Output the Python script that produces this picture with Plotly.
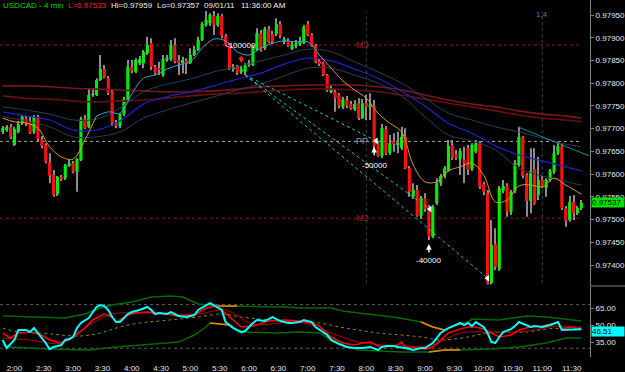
import plotly.graph_objects as go
import pandas as pd

# ---------------- data ----------------
DAY = "2011-09-01"
FIRST_BAR = "01:48"
BAR_MIN = 4

OPEN = [0.97693,0.97697,0.97704,0.97664,0.97693,0.97712,0.97723,0.97717,0.97693,0.97726,
        0.97677,0.97664,0.97627,0.97598,0.97556,0.97594,0.97591,0.97618,0.97624,0.97605,
        0.97631,0.97721,0.97704,0.97774,0.97774,0.97807,0.97831,0.97811,0.97781,0.97712,
        0.97706,0.97732,0.97761,0.97836,0.97825,0.97844,0.97844,0.97866,0.97888,0.97836,
        0.97833,0.97818,0.97851,0.97853,0.97884,0.97851,0.97844,0.97851,0.97844,0.97862,
        0.97873,0.97895,0.97928,0.97932,0.97948,0.97928,0.97948,0.97904,0.97884,0.97831,
        0.97836,0.97825,0.97825,0.97840,0.97840,0.97873,0.97910,0.97877,0.97919,0.97908,
        0.97908,0.97930,0.97891,0.97893,0.97875,0.97882,0.97886,0.97888,0.97930,0.97906,
        0.97882,0.97849,0.97844,0.97818,0.97781,0.97781,0.97774,0.97748,0.97763,0.97754,
        0.97743,0.97756,0.97723,0.97756,0.97748,0.97750,0.97668,0.97640,0.97699,0.97646,
        0.97673,0.97666,0.97657,0.97682,0.97613,0.97550,0.97565,0.97508,0.97547,0.97528,
        0.97462,0.97536,0.97580,0.97596,0.97607,0.97664,0.97644,0.97633,0.97631,0.97657,
        0.97611,0.97649,0.97668,0.97578,0.97558,0.97360,0.97446,0.97391,0.97563,0.97574,
        0.97517,0.97563,0.97620,0.97682,0.97598,0.97541,0.97611,0.97554,0.97589,0.97569,
        0.97587,0.97605,0.97646,0.97662,0.97525,0.97499,0.97539,0.97514,0.97525]
HIGH = [0.97706,0.97708,0.97710,0.97704,0.97717,0.97730,0.97728,0.97726,0.97730,0.97730,
        0.97684,0.97668,0.97646,0.97609,0.97596,0.97598,0.97622,0.97631,0.97629,0.97635,
        0.97726,0.97730,0.97789,0.97789,0.97811,0.97862,0.97840,0.97816,0.97785,0.97719,
        0.97734,0.97770,0.97851,0.97851,0.97855,0.97860,0.97873,0.97902,0.97899,0.97840,
        0.97847,0.97862,0.97862,0.97895,0.97899,0.97862,0.97858,0.97855,0.97877,0.97882,
        0.97902,0.97935,0.97959,0.97954,0.97959,0.97954,0.97952,0.97908,0.97888,0.97842,
        0.97840,0.97838,0.97844,0.97851,0.97884,0.97921,0.97917,0.97924,0.97926,0.97915,
        0.97943,0.97937,0.97902,0.97899,0.97891,0.97895,0.97902,0.97928,0.97937,0.97910,
        0.97886,0.97853,0.97847,0.97820,0.97796,0.97787,0.97778,0.97770,0.97772,0.97761,
        0.97763,0.97767,0.97765,0.97774,0.97778,0.97763,0.97673,0.97710,0.97706,0.97686,
        0.97690,0.97693,0.97704,0.97701,0.97618,0.97580,0.97576,0.97552,0.97558,0.97532,
        0.97532,0.97591,0.97600,0.97618,0.97675,0.97675,0.97653,0.97657,0.97660,0.97664,
        0.97668,0.97675,0.97673,0.97583,0.97565,0.97499,0.97481,0.97574,0.97587,0.97580,
        0.97565,0.97631,0.97704,0.97684,0.97602,0.97657,0.97657,0.97638,0.97596,0.97591,
        0.97611,0.97664,0.97671,0.97666,0.97530,0.97552,0.97554,0.97530,0.97543]
LOW = [0.97688,0.97693,0.97677,0.97662,0.97690,0.97708,0.97706,0.97688,0.97688,0.97673,
       0.97657,0.97624,0.97580,0.97550,0.97552,0.97585,0.97587,0.97616,0.97602,0.97561,
       0.97629,0.97699,0.97701,0.97770,0.97772,0.97805,0.97811,0.97774,0.97706,0.97701,
       0.97701,0.97728,0.97759,0.97822,0.97822,0.97840,0.97833,0.97862,0.97829,0.97818,
       0.97818,0.97814,0.97847,0.97849,0.97844,0.97818,0.97822,0.97820,0.97842,0.97860,
       0.97871,0.97893,0.97924,0.97926,0.97906,0.97924,0.97899,0.97882,0.97829,0.97825,
       0.97818,0.97820,0.97818,0.97836,0.97838,0.97871,0.97869,0.97873,0.97888,0.97886,
       0.97904,0.97899,0.97886,0.97880,0.97873,0.97877,0.97882,0.97886,0.97904,0.97880,
       0.97844,0.97838,0.97816,0.97781,0.97778,0.97737,0.97745,0.97743,0.97745,0.97741,
       0.97739,0.97719,0.97721,0.97719,0.97719,0.97657,0.97638,0.97635,0.97642,0.97642,
       0.97649,0.97646,0.97653,0.97611,0.97550,0.97545,0.97506,0.97501,0.97517,0.97455,
       0.97459,0.97532,0.97574,0.97591,0.97605,0.97631,0.97631,0.97598,0.97580,0.97598,
       0.97607,0.97646,0.97567,0.97554,0.97357,0.97357,0.97389,0.97387,0.97558,0.97506,
       0.97510,0.97558,0.97616,0.97591,0.97506,0.97514,0.97532,0.97543,0.97569,0.97550,
       0.97583,0.97600,0.97642,0.97521,0.97484,0.97495,0.97499,0.97510,0.97521]
CLOSE = [0.97701,0.97704,0.97682,0.97699,0.97710,0.97726,0.97710,0.97690,0.97726,0.97677,
         0.97662,0.97627,0.97596,0.97554,0.97594,0.97589,0.97620,0.97624,0.97605,0.97633,
         0.97721,0.97701,0.97774,0.97776,0.97807,0.97831,0.97814,0.97778,0.97712,0.97706,
         0.97732,0.97765,0.97836,0.97827,0.97851,0.97853,0.97869,0.97884,0.97836,0.97822,
         0.97829,0.97853,0.97855,0.97884,0.97847,0.97844,0.97851,0.97844,0.97862,0.97873,
         0.97895,0.97930,0.97939,0.97950,0.97928,0.97948,0.97904,0.97884,0.97833,0.97836,
         0.97822,0.97831,0.97840,0.97844,0.97880,0.97910,0.97873,0.97919,0.97891,0.97891,
         0.97930,0.97904,0.97897,0.97882,0.97884,0.97888,0.97893,0.97924,0.97906,0.97882,
         0.97847,0.97842,0.97818,0.97785,0.97785,0.97767,0.97750,0.97765,0.97750,0.97743,
         0.97754,0.97723,0.97756,0.97748,0.97750,0.97662,0.97640,0.97701,0.97646,0.97668,
         0.97666,0.97668,0.97682,0.97613,0.97561,0.97565,0.97508,0.97547,0.97523,0.97462,
         0.97528,0.97580,0.97596,0.97613,0.97662,0.97635,0.97635,0.97651,0.97624,0.97609,
         0.97664,0.97668,0.97572,0.97561,0.97360,0.97444,0.97396,0.97569,0.97574,0.97517,
         0.97561,0.97624,0.97682,0.97596,0.97541,0.97607,0.97534,0.97587,0.97572,0.97587,
         0.97607,0.97646,0.97662,0.97525,0.97497,0.97539,0.97514,0.97525,0.97537]

# fast moving average (bar index, value)
FAST_K = [0,3,6,9,12,15,18,21,24,27,30,33,36,39,42,45,48,51,54,57,60,63,66,69,72,75,78,81,
          84,87,90,93,96,99,102,105,108,111,114,117,120,123,126,129,132,135,138,141,144,148]
FAST = [0.97723,0.97715,0.97712,0.97701,0.97660,0.97638,0.97633,0.97675,0.97728,0.97737,
        0.97734,0.97776,0.97811,0.97818,0.97831,0.97840,0.97847,0.97877,0.97897,0.97893,
        0.97869,0.97862,0.97877,0.97888,0.97893,0.97891,0.97891,0.97862,0.97833,0.97805,
        0.97785,0.97767,0.97734,0.97712,0.97693,0.97620,0.97583,0.97583,0.97607,0.97616,
        0.97624,0.97598,0.97539,0.97543,0.97574,0.97576,0.97572,0.97591,0.97576,0.97556]
FAST_BLUE_FROM, FAST_BLUE_TO = 24, 81

# envelope bands and slow averages
BAND_K = [0,6,12,18,24,30,36,42,48,54,60,66,72,78,84,90,96,102,108,114,120,126,132,138,144,148]
BAND_UP = [0.97748,0.97741,0.97732,0.97719,0.97721,0.97745,0.97781,0.97798,0.97809,0.97825,
           0.97836,0.97849,0.97862,0.97875,0.97869,0.97847,0.97825,0.97800,0.97767,0.97734,
           0.97719,0.97704,0.97693,0.97679,0.97666,0.97660]
BAND_MID = [0.97737,0.97728,0.97719,0.97697,0.97697,0.97717,0.97754,0.97770,0.97781,0.97794,
            0.97809,0.97822,0.97842,0.97855,0.97849,0.97831,0.97811,0.97783,0.97750,0.97712,
            0.97690,0.97662,0.97642,0.97629,0.97616,0.97607]
BAND_LOW = [0.97726,0.97717,0.97704,0.97682,0.97682,0.97693,0.97723,0.97741,0.97756,0.97770,
            0.97785,0.97798,0.97816,0.97833,0.97833,0.97818,0.97800,0.97772,0.97726,0.97686,
            0.97673,0.97653,0.97613,0.97596,0.97583,0.97576]
SLOW_1 = [0.97794,0.97794,0.97792,0.97789,0.97787,0.97785,0.97783,0.97781,0.97781,0.97783,
          0.97787,0.97792,0.97794,0.97796,0.97796,0.97796,0.97792,0.97785,0.97774,0.97763,
          0.97754,0.97748,0.97739,0.97732,0.97728,0.97723]
SLOW_2 = [0.97772,0.97767,0.97765,0.97761,0.97759,0.97761,0.97763,0.97767,0.97772,0.97776,
          0.97778,0.97781,0.97785,0.97787,0.97787,0.97785,0.97781,0.97774,0.97765,0.97756,
          0.97748,0.97739,0.97730,0.97723,0.97719,0.97715]

# pivot levels
PIVOT_NAMES = ["M3", "PP", "M2"]
PIVOT_VALUES = [0.97884, 0.97672, 0.97503]
PIVOT_COLORS = ["#9a1414", "#a8a8a8", "#9a1414"]

# fan of trend lines
TREND_START_TIME, TREND_START_PRICE = "05:56", 0.97818
TREND_END_TIMES = ["08:10", "09:05", "10:04"]
TREND_END_PRICES = [0.97673, 0.97523, 0.97371]
RESIST_TIMES = ["10:35", "11:48"]
RESIST_PRICES = [0.97704, 0.97640]

VLINE_TIMES = ["08:00", "11:00"]
VLINE_LABELS = ["", "1.4"]

TRADE_TEXT = ["-100000", "-50000", "-40000"]
TRADE_TIME = ["05:52", "08:08", "09:04"]
TRADE_TEXT_PRICE = [0.97882, 0.97620, 0.97411]
TRADE_ARROW_PRICE = [0.97844, 0.97660, 0.97446]
TRADE_ARROW_UP = [False, True, True]
TRADE_ARROW_COLOR = ["#ff2020", "#ffffff", "#ffffff"]

LAST_PRICE = 0.97537
PRICE_TICKS = [0.97400,0.97450,0.97500,0.97550,0.97600,0.97650,0.97700,0.97750,0.97800,0.97850,0.97900,0.97950]
TIME_LABELS = ["2:00","2:30","3:00","3:30","4:00","4:30","5:00","5:30","6:00","6:30",
               "7:00","7:30","8:00","8:30","9:00","9:30","10:00","10:30","11:00","11:30"]

# oscillator
CY_K = [0,1,3,4,6,7,8,9,10,11,12,13,15,16,17,18,19,20,22,23,24,25,26,27,28,29,30,31,32,33,
        35,37,38,39,40,42,43,44,45,47,49,50,52,53,54,56,57,59,61,62,64,65,67,68,69,71,73,74,
        76,77,79,80,81,83,84,86,88,90,92,94,96,97,98,100,101,103,105,107,108,110,111,112,114,
        115,117,118,119,120,121,123,124,125,126,127,128,130,131,132,134,135,136,138,140,142,
        143,145,148]
CY_V = [37.2,30.2,37.2,45.9,45.9,44.1,47.6,43.3,38.9,34.6,29.3,31.1,32.8,37.2,38.0,39.8,47.6,
        52.0,56.3,60.7,65.9,67.6,66.7,63.3,57.2,52.8,52.8,56.3,59.8,61.5,63.3,65.9,63.3,59.8,
        60.7,59.8,61.5,59.8,58.0,57.2,58.9,63.3,67.6,69.3,67.6,63.3,52.8,47.6,44.1,45.0,52.0,
        54.6,53.7,55.4,57.2,53.7,52.0,52.0,52.8,54.6,52.8,48.5,45.9,41.5,37.2,33.7,31.1,30.2,
        30.2,31.1,28.5,31.1,32.0,32.0,31.1,30.2,28.5,30.2,30.2,34.6,38.9,43.3,47.6,49.3,52.0,
        50.2,52.0,49.3,52.8,48.5,43.3,35.4,34.6,39.8,44.1,46.7,49.3,52.8,50.2,48.5,49.3,48.5,
        50.2,52.8,45.9,45.9,46.51]
RD_K = [0,2,4,7,10,12,15,16,17,18,21,23,26,28,29,30,32,34,37,39,42,45,49,52,55,56,59,61,64,
        68,72,76,79,81,84,87,90,92,94,96,98,101,102,103,106,108,110,112,114,117,119,121,123,
        125,127,130,132,135,138,142,143,145,148]
RD_V = [43.3,38.9,43.3,44.1,41.5,37.2,34.6,37.2,37.2,39.8,47.6,54.6,59.8,57.2,52.8,54.6,58.9,
        60.7,61.5,60.7,59.8,58.0,58.9,65.0,66.7,63.3,54.6,48.5,49.3,53.7,54.6,53.7,52.0,49.3,
        39.8,34.6,32.8,34.6,35.4,32.0,31.1,32.8,35.4,31.1,30.2,29.3,31.1,37.2,43.3,46.7,48.5,
        48.5,46.7,43.3,39.8,41.5,45.9,48.5,49.3,52.0,46.7,48.5,46.7]
DR_K = [0,7,15,23,28,35,50,57,64,76,84,91,102,110,117,125,132,142,148]
DR_V = [38.9,37.2,34.6,52.0,59.8,60.7,59.8,63.3,51.1,52.8,43.3,35.4,32.0,32.8,43.3,44.1,44.1,49.3,47.6]
UB_K = [0,10,16,21,25,28,33,38,43,46,50,55,60,72,76,84,87,93,100,107,110,113,116,119,120,127,134,139,143,148]
UB_V = [58.0,57.2,56.3,59.8,65.0,67.6,70.2,74.6,75.4,74.6,68.5,66.7,66.7,65.9,65.0,65.0,62.4,
        59.8,57.2,52.8,48.5,45.9,50.2,52.8,55.4,54.6,58.0,57.2,55.4,53.7]
LB_K = [0,2,12,22,29,35,40,45,49,52,53,58,60,62,70,76,81,84,87,91,102,109,113,117,125,132,139,144,148]
LB_V = [32.8,31.1,29.3,28.5,31.1,32.8,34.6,35.4,41.5,48.5,52.0,50.2,45.9,44.1,43.3,44.1,43.3,
        37.2,32.8,28.5,26.7,26.7,28.5,28.5,29.3,31.1,34.6,38.9,38.9]
UB_ORANGE = [(55, 60), (107, 113)]
LB_ORANGE = [(53, 58), (109, 117)]
MID_K = [0,4,10,15,20,25,30,35,40,45,50,56,61,66,71,76,81,86,91,96,102,107,112,119,124,129,134,139,144,148]
MID_V = [47.6,44.1,43.3,41.5,40.7,43.3,48.5,52.0,53.7,55.4,57.2,59.8,57.2,55.4,53.7,52.8,52.0,
         48.5,45.9,43.3,41.5,39.8,37.2,39.8,43.3,44.1,44.1,46.7,47.6,48.5]
OSC_LEVELS = [68, 30]
OSC_TICKS = [35, 50, 65]
OSC_LAST = 46.51

# ---------------- figure ----------------
W, H = 625, 372
times = pd.date_range(f"{DAY} {FIRST_BAR}", periods=len(CLOSE), freq=f"{BAR_MIN}min")


def at(hm):
    return pd.Timestamp(f"{DAY} {hm}")


def tk(ks):
    return [times[k] for k in ks]


FONT = "Liberation Sans, Arial, sans-serif"
UP_COL, DN_COL = "#00ee00", "#ff1010"
BAR_MS = BAR_MIN * 60000
fig = go.Figure()


def line(xs, ys, color, width=1, dash=None, xa="x", ya="y", shape="linear"):
    fig.add_trace(go.Scatter(x=xs, y=ys, mode="lines", xaxis=xa, yaxis=ya, hoverinfo="skip",
                             line=dict(color=color, width=width, dash=dash, shape=shape)))


# slow averages and envelope
line(tk(BAND_K), SLOW_1, "#741818", 1.6, shape="spline")
line(tk(BAND_K), SLOW_2, "#6a0e0e", 1.6, shape="spline")
line(tk(BAND_K), BAND_UP, "#2a3d5a", 1, shape="spline")
line(tk(BAND_K), BAND_LOW, "#2a3d5a", 1, shape="spline")
line(tk(BAND_K), BAND_MID, "#2020c8", 1.2, shape="spline")
line([at(t) for t in RESIST_TIMES], RESIST_PRICES, "#178a8a", 1)

# wicks (thin bars, drawn first) and bodies (wide bars)
fig.add_trace(go.Bar(x=times, y=[h - l for h, l in zip(HIGH, LOW)], base=LOW, xaxis="x", yaxis="y",
                     width=BAR_MS * 0.26, hoverinfo="skip",
                     marker=dict(color="#8c8c8c", line=dict(width=0))))
body_base = [min(o, c) for o, c in zip(OPEN, CLOSE)]
body_len = [max(abs(c - o), 0.00002) for o, c in zip(OPEN, CLOSE)]
body_col = [UP_COL if c >= o else DN_COL for o, c in zip(OPEN, CLOSE)]
fig.add_trace(go.Bar(x=times, y=body_len, base=body_base, xaxis="x", yaxis="y",
                     width=BAR_MS * 0.8, hoverinfo="skip",
                     marker=dict(color=body_col, line=dict(width=0))))

# fast MA (orange / light blue / orange)
segs = [(0, FAST_BLUE_FROM, "#d89a2a"), (FAST_BLUE_FROM, FAST_BLUE_TO, "#3c9ee0"),
        (FAST_BLUE_TO, 10 ** 6, "#d89a2a")]
for a, b, c in segs:
    idx = [i for i, k in enumerate(FAST_K) if a <= k <= b]
    line([times[FAST_K[i]] for i in idx], [FAST[i] for i in idx], c, 1, shape="spline")

# trend fan
for te, pe in zip(TREND_END_TIMES, TREND_END_PRICES):
    line([at(TREND_START_TIME), at(te)], [TREND_START_PRICE, pe], "#10c4c4", 1, dash="dot")
fig.add_trace(go.Scatter(x=[at(t) for t in TREND_END_TIMES], y=TREND_END_PRICES, mode="markers",
                         hoverinfo="skip", marker=dict(symbol="triangle-left", size=6, color="white")))

# oscillator
line(tk(UB_K), UB_V, "#006a00", 1.5, xa="x2", ya="y2")
line(tk(LB_K), LB_V, "#006a00", 1.5, xa="x2", ya="y2")
for ks, vs, segl in [(UB_K, UB_V, UB_ORANGE), (LB_K, LB_V, LB_ORANGE)]:
    for a, b in segl:
        idx = [i for i, k in enumerate(ks) if a <= k <= b]
        line([times[ks[i]] for i in idx], [vs[i] for i in idx], "#ff8000", 1.5, xa="x2", ya="y2")
line(tk(MID_K), MID_V, "#8a8a00", 1, dash="dot", xa="x2", ya="y2", shape="spline")
line(tk(DR_K), DR_V, "#b00000", 1, xa="x2", ya="y2", shape="spline")
line(tk(RD_K), RD_V, "#ff0000", 1.6, xa="x2", ya="y2")
line(tk(CY_K), CY_V, "#00ffff", 2, xa="x2", ya="y2")

# ---------------- layout ----------------
XR = [at("01:45:14"), at("11:48:48")]
XD = [0, 590 / W]
PRICE_DOM = [1 - 286 / H, 1]
OSC_DOM = [1 - 357 / H, 1 - 287 / H]
PRICE_RANGE = [0.973538, 0.97983]
OSC_RANGE = [22.4, 83.3]
tickfont = dict(family=FONT, size=8, color="#e6e6e6")

fig.update_layout(
    width=W, height=H, margin=dict(l=0, r=0, t=0, b=0),
    paper_bgcolor="black", plot_bgcolor="black", showlegend=False, hovermode=False,
    barmode="overlay", font=dict(family=FONT, size=8, color="white"),
    xaxis=dict(domain=XD, range=XR, type="date", anchor="y", showgrid=False, zeroline=False,
               showticklabels=False, fixedrange=True),
    yaxis=dict(domain=PRICE_DOM, range=PRICE_RANGE, side="right", anchor="x", showgrid=False,
               zeroline=False, tickvals=PRICE_TICKS, ticktext=[f"{v:.5f}" for v in PRICE_TICKS],
               tickfont=tickfont, ticks="outside", ticklen=3, tickcolor="#808080",
               showline=True, linecolor="#808080", linewidth=1, automargin=False),
    xaxis2=dict(domain=XD, matches="x", type="date", anchor="y2", showgrid=False, zeroline=False,
                tickvals=[at(t) for t in TIME_LABELS], ticktext=TIME_LABELS, tickfont=tickfont,
                ticks="outside", ticklen=3, tickcolor="black", showline=False, automargin=False),
    yaxis2=dict(domain=OSC_DOM, range=OSC_RANGE, side="right", anchor="x2", showgrid=False,
                zeroline=False, tickvals=OSC_TICKS, ticktext=[f"{v:.2f}" for v in OSC_TICKS],
                tickfont=tickfont, ticks="outside", ticklen=3, tickcolor="#808080",
                showline=True, linecolor="#808080", linewidth=1, automargin=False),
)

shapes = []
for name, val, col in zip(PIVOT_NAMES, PIVOT_VALUES, PIVOT_COLORS):
    shapes.append(dict(type="line", xref="x", yref="y", x0=XR[0], x1=at("11:38"), y0=val, y1=val,
                       line=dict(color=col, width=1, dash="dot"), layer="below"))
for t in VLINE_TIMES:
    shapes.append(dict(type="line", xref="x", yref="y domain", x0=at(t), x1=at(t), y0=0.01, y1=0.96,
                       line=dict(color="#1d4f4f", width=1, dash="dot"), layer="below"))
for lv in OSC_LEVELS:
    shapes.append(dict(type="line", xref="x2", yref="y2", x0=XR[0], x1=XR[1], y0=lv, y1=lv,
                       line=dict(color="#5a5a5a", width=1, dash="dot"), layer="below"))
shapes.append(dict(type="line", xref="paper", yref="paper", x0=XD[1], x1=1, y0=PRICE_DOM[0],
                   y1=PRICE_DOM[0], line=dict(color="#808080", width=1)))
fig.update_layout(shapes=shapes)

ann = []
# title pieces
TITLE_PARTS = [("USDCAD - 4 min", "#00d800", 1), ("L=0.97533", "#ff2020", 66),
               ("Hi=0.97959", "#f0f0f0", 109), ("Lo=0.97357", "#f0f0f0", 155),
               ("09/01/11", "#f0f0f0", 202), ("11:36:00 AM", "#f0f0f0", 239)]
for txt, col, px in TITLE_PARTS:
    ann.append(dict(text=txt, xref="paper", yref="paper", x=px / W, y=1 - 5.5 / H,
                    xanchor="left", yanchor="middle", showarrow=False,
                    font=dict(family=FONT, size=8, color=col)))
# pivot labels
for name, val, col in zip(PIVOT_NAMES, PIVOT_VALUES, PIVOT_COLORS):
    ann.append(dict(text=name, xref="x", yref="y", x=at("07:56"), y=val, showarrow=False,
                    xanchor="center", yanchor="middle",
                    font=dict(family=FONT, size=9, color="#9a9a9a" if name == "PP" else "#a01818")))
for t, lab in zip(VLINE_TIMES, VLINE_LABELS):
    if lab:
        ann.append(dict(text=lab, xref="x", yref="paper", x=at(t), y=1 - 15 / H, showarrow=False,
                        xanchor="center", yanchor="middle",
                        font=dict(family=FONT, size=8, color="#3f7fb8")))
# trades
for txt, t, tp, ap, up, col in zip(TRADE_TEXT, TRADE_TIME, TRADE_TEXT_PRICE, TRADE_ARROW_PRICE,
                                   TRADE_ARROW_UP, TRADE_ARROW_COLOR):
    ann.append(dict(text=txt, xref="x", yref="y", x=at(t), y=tp, showarrow=False,
                    xanchor="center", yanchor="middle", font=dict(family=FONT, size=8, color="white")))
    ann.append(dict(text="", xref="x", yref="y", x=at(t), y=ap, showarrow=True, ax=0,
                    ay=10 if up else -9, arrowhead=2, arrowsize=0.8, arrowwidth=1.4, arrowcolor=col))
# value boxes
ann.append(dict(text=f"{LAST_PRICE:.5f}", xref="paper", yref="y", x=591 / W, y=LAST_PRICE,
                xanchor="left", yanchor="middle", showarrow=False, bgcolor="#00e000",
                width=32, height=9, borderpad=0, align="left",
                font=dict(family=FONT, size=8, color="black")))
ann.append(dict(text=f"{OSC_LAST:.2f}", xref="paper", yref="y2", x=591 / W, y=OSC_LAST, yshift=-2,
                xanchor="left", yanchor="middle", showarrow=False, bgcolor="#00ffff",
                width=32, height=9, borderpad=0, align="left",
                font=dict(family=FONT, size=8, color="black")))
fig.update_layout(annotations=ann)

fig.write_html("out.html", config={"displayModeBar": False})
